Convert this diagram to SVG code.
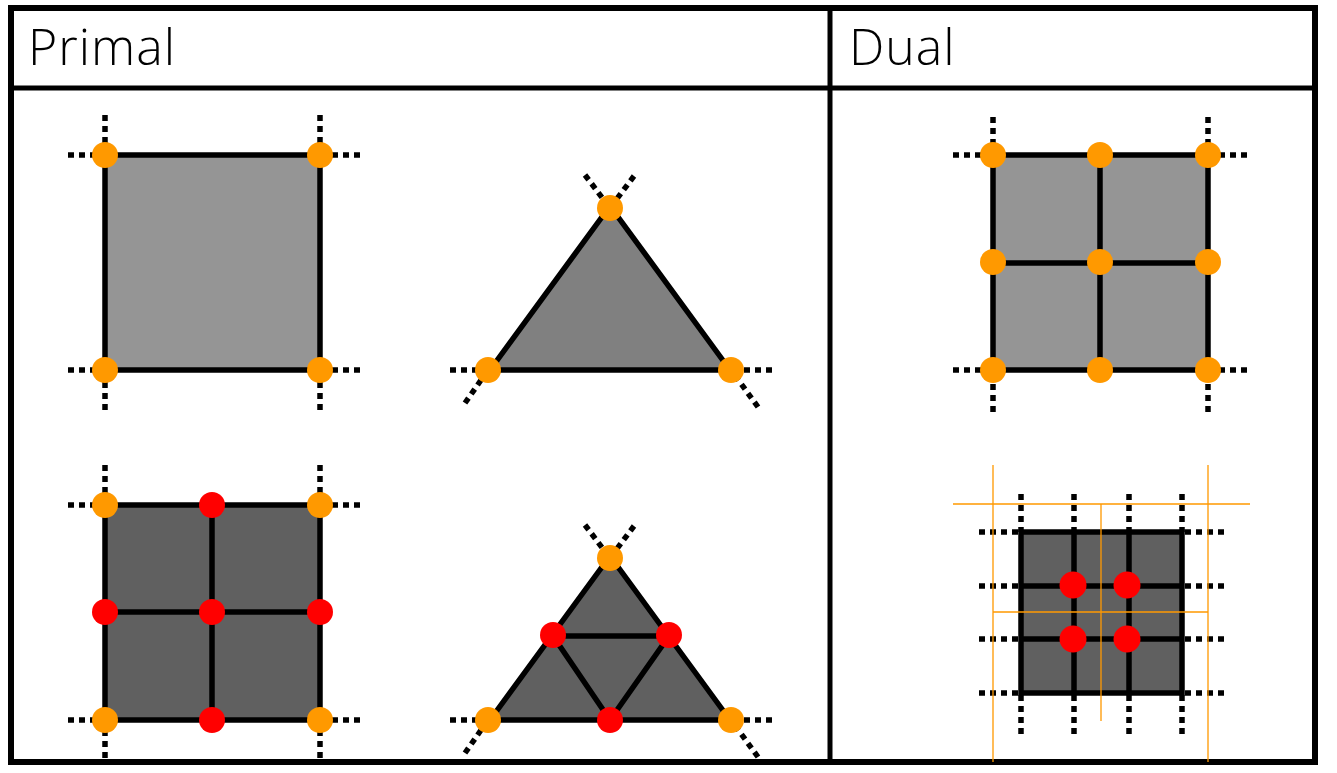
<svg xmlns="http://www.w3.org/2000/svg" width="1337" height="773" viewBox="0 0 1337 773">
<style>
.frame{fill:none;stroke:#000;stroke-width:6}
.div{stroke:#000;stroke-width:5}
.title{font-family:"Open Sans","Noto Sans",sans-serif;font-size:50px;font-weight:300;letter-spacing:1px;fill:#000}
.edge{stroke:#000;stroke-width:5.5;fill:none}
.light{fill:#959595;stroke:#000;stroke-width:5.5}
.tri1{fill:#808080;stroke:#000;stroke-width:5.5;stroke-linejoin:round}
.dark{fill:#606060;stroke:#000;stroke-width:5.5}
.dot{stroke:#000;stroke-width:5.5;stroke-dasharray:6 5;fill:none}
.o{fill:#FF9900}
.r{fill:#FF0000}
.guide{stroke:#FF9900;stroke-width:1.3;fill:none}
</style>
<rect x="0" y="0" width="1337" height="773" fill="#fff"/>
<g id="table">
<rect class="frame" x="11" y="8" width="1304" height="754"/>
<line class="div" x1="11" y1="88" x2="1315" y2="88"/>
<line class="div" x1="830" y1="8" x2="830" y2="762"/>
<text class="title" x="28" y="65">Primal</text>
<text class="title" x="849" y="65">Dual</text>
</g>
<g id="connectors">
<path class="dot" d="M105 115V155M68 155H105M320 115V155M360 155H320M105 410V370M68 370H105M320 410V370M360 370H320"/>
<path class="dot" d="M585 175L610 208M634 176L610 208M450 370H488M465 403L488 370M772 370H731M758 407L731 370"/>
<path class="dot" d="M105 465V505M68 505H105M320 465V505M360 505H320M105 758V720M68 720H105M320 758V720M360 720H320"/>
<path class="dot" d="M585 525L610 558M634 526L610 558M450 720H488M465 753L488 720M772 720H731M758 757L731 720"/>
<path class="dot" d="M993 117V155M953 155H993M1208 117V155M1247 155H1208M993 412V370M953 370H993M1208 412V370M1247 370H1208"/>
<path class="dot" d="M979 532H1021M979 586H1021M979 639H1021M979 693H1021M1224 532H1182M1224 586H1182M1224 639H1182M1224 693H1182M1021 494V532M1074 494V532M1129 494V532M1182 494V532M1021 734V693M1074 734V693M1129 734V693M1182 734V693"/>
</g>
<g id="primal-square">
<rect class="light" x="105" y="155" width="215" height="215"/>
<circle class="o" cx="105" cy="155" r="13"/><circle class="o" cx="320" cy="155" r="13"/>
<circle class="o" cx="105" cy="370" r="13"/><circle class="o" cx="320" cy="370" r="13"/>
</g>
<g id="primal-triangle">
<polygon class="tri1" points="610,206 490,370 730,370"/>
<circle class="o" cx="610" cy="208" r="13"/><circle class="o" cx="488" cy="370" r="13"/><circle class="o" cx="731" cy="370" r="13"/>
</g>
<g id="primal-square-refined">
<rect class="dark" x="105" y="505" width="215" height="215"/>
<path class="edge" d="M212 505V720M105 612H320"/>
<circle class="o" cx="105" cy="505" r="13"/><circle class="o" cx="320" cy="505" r="13"/>
<circle class="o" cx="105" cy="720" r="13"/><circle class="o" cx="320" cy="720" r="13"/>
<circle class="r" cx="212" cy="505" r="13"/><circle class="r" cx="105" cy="612" r="13"/><circle class="r" cx="212" cy="612" r="13"/><circle class="r" cx="320" cy="612" r="13"/><circle class="r" cx="212" cy="720" r="13"/>
</g>
<g id="primal-triangle-refined">
<polygon class="dark" style="stroke-linejoin:round" points="610,556 490,720 730,720"/>
<path class="edge" d="M553 636H669L610 720Z"/>
<circle class="o" cx="610" cy="558" r="13"/><circle class="o" cx="488" cy="720" r="13"/><circle class="o" cx="731" cy="720" r="13"/>
<circle class="r" cx="553" cy="635" r="13"/><circle class="r" cx="669" cy="635" r="13"/><circle class="r" cx="610" cy="720" r="13"/>
</g>
<g id="dual-square">
<rect class="light" x="993" y="155" width="215" height="215"/>
<path class="edge" d="M1100 155V370M993 263H1208"/>
<circle class="o" cx="993" cy="155" r="13"/><circle class="o" cx="1100" cy="155" r="13"/><circle class="o" cx="1208" cy="155" r="13"/>
<circle class="o" cx="993" cy="262" r="13"/><circle class="o" cx="1100" cy="262" r="13"/><circle class="o" cx="1208" cy="262" r="13"/>
<circle class="o" cx="993" cy="370" r="13"/><circle class="o" cx="1100" cy="370" r="13"/><circle class="o" cx="1208" cy="370" r="13"/>
</g>
<g id="dual-grid">
<rect class="dark" x="1021" y="532" width="161" height="161"/>
<path class="edge" d="M1074 532V693M1129 532V693M1021 586H1182M1021 639H1182"/>
<circle class="r" cx="1073" cy="585" r="13.5"/><circle class="r" cx="1127" cy="585" r="13.5"/>
<circle class="r" cx="1073" cy="639" r="13.5"/><circle class="r" cx="1127" cy="639" r="13.5"/>
<path class="guide" d="M993 465V762M1208 465V762M953 504H1250M993 612H1208M1101 504V721"/>
</g>
</svg>
